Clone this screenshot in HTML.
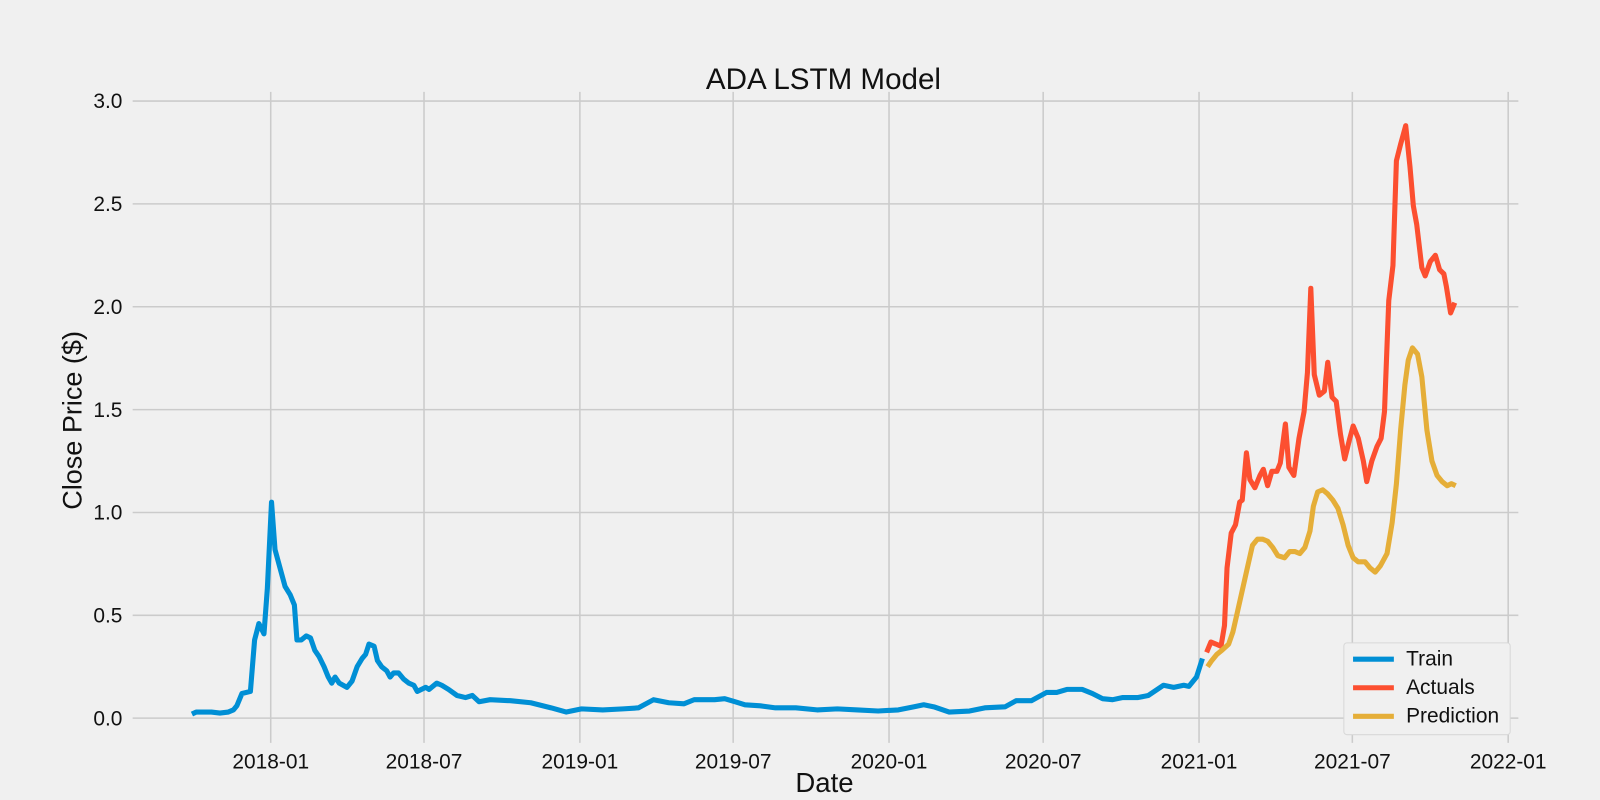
<!DOCTYPE html>
<html><head><meta charset="utf-8"><meta name="viewport" content="width=1600,height=800,initial-scale=1"><style>
html,body{margin:0;padding:0;background:#f0f0f0;width:1600px;height:800px;overflow:hidden;}
svg{display:block;font-family:"Liberation Sans","DejaVu Sans",sans-serif;}
</style></head><body>
<svg id="chart" width="1600" height="800" viewBox="0 0 1600 800">
<rect x="0" y="0" width="1600" height="800" fill="#f0f0f0"/>
<g transform="scale(1.0204)">
<g id="grid"></g>
<g id="series"></g>
<text x="807" y="87" text-anchor="middle" font-size="29" fill="#111">ADA LSTM Model</text>
<text x="0" y="0" transform="translate(80,412) rotate(-90)" text-anchor="middle" font-size="26.5" fill="#111">Close Price ($)</text>
<text x="808" y="776" text-anchor="middle" font-size="27" fill="#111">Date</text>
<g>
<rect x="1317" y="630" width="163" height="90" rx="3" fill="#f0f0f0" stroke="#d8d8d8"/>
<line x1="1326" y1="646" x2="1366" y2="646" stroke="#008fd5" stroke-width="5"/>
<text x="1378" y="652" font-size="20.5" fill="#111">Train</text>
<line x1="1326" y1="674" x2="1366" y2="674" stroke="#fc4f30" stroke-width="5"/>
<text x="1378" y="680" font-size="20.5" fill="#111">Actuals</text>
<line x1="1326" y1="702" x2="1366" y2="702" stroke="#e5ae38" stroke-width="5"/>
<text x="1378" y="708" font-size="20.5" fill="#111">Prediction</text>
</g>
</g>
</svg>
<script>
// days since 2018-01-01
const trainDays=[-93,-88,-70,-60,-50,-44,-40,-34,-24,-19,-14,-8,-4,1,5,11,17,23,28,31,36,42,47,52,57,63,68,72,76,81,90,96,102,108,112,116,122,126,131,137,141,145,151,157,163,169,173,183,187,196,202,210,220,230,238,246,259,283,307,331,349,367,392,416,434,452,470,488,500,524,536,548,560,578,596,620,645,669,693,717,741,759,771,783,801,825,843,867,880,898,916,928,940,958,970,982,994,1006,1024,1036,1054,1066,1078,1084,1093,1100];
const trainValues=[0.02,0.03,0.03,0.025,0.03,0.04,0.06,0.12,0.13,0.38,0.46,0.41,0.63,1.05,0.82,0.73,0.64,0.60,0.55,0.38,0.38,0.40,0.39,0.33,0.30,0.25,0.20,0.17,0.20,0.17,0.15,0.18,0.25,0.29,0.31,0.36,0.35,0.28,0.25,0.23,0.20,0.22,0.22,0.19,0.17,0.16,0.13,0.15,0.14,0.17,0.16,0.14,0.11,0.10,0.11,0.08,0.09,0.085,0.075,0.05,0.03,0.045,0.04,0.045,0.05,0.09,0.075,0.07,0.09,0.09,0.095,0.08,0.065,0.06,0.05,0.05,0.04,0.045,0.04,0.035,0.04,0.055,0.065,0.055,0.03,0.035,0.05,0.055,0.085,0.085,0.125,0.125,0.14,0.14,0.12,0.095,0.09,0.10,0.10,0.11,0.16,0.15,0.16,0.155,0.20,0.29];
const actualDays=[1105,1110,1116,1122,1126,1129,1134,1139,1144,1147,1152,1156,1162,1168,1172,1177,1182,1188,1192,1198,1202,1208,1214,1220,1224,1228,1232,1238,1244,1248,1253,1258,1263,1268,1274,1278,1284,1290,1294,1300,1306,1311,1315,1320,1325,1329,1334,1340,1345,1349,1353,1359,1363,1369,1375,1380,1385,1388,1393,1398];
const actualValues=[0.32,0.37,0.36,0.35,0.45,0.73,0.90,0.94,1.05,1.06,1.29,1.16,1.12,1.18,1.21,1.13,1.20,1.20,1.24,1.43,1.22,1.18,1.36,1.49,1.68,2.09,1.67,1.57,1.59,1.73,1.56,1.54,1.38,1.26,1.36,1.42,1.36,1.25,1.15,1.25,1.32,1.36,1.49,2.03,2.20,2.71,2.79,2.88,2.68,2.49,2.40,2.19,2.15,2.22,2.25,2.18,2.16,2.10,1.97,2.02];
const predDays=[1106,1111,1117,1123,1131,1136,1141,1147,1153,1159,1165,1171,1177,1183,1189,1197,1203,1209,1215,1221,1227,1231,1236,1242,1248,1254,1260,1266,1272,1278,1284,1292,1298,1304,1310,1318,1324,1329,1334,1339,1343,1348,1354,1359,1365,1371,1377,1383,1389,1394,1399];
const predValues=[0.25,0.28,0.31,0.33,0.36,0.42,0.51,0.62,0.73,0.84,0.87,0.87,0.86,0.83,0.79,0.78,0.81,0.81,0.80,0.83,0.91,1.03,1.10,1.11,1.09,1.06,1.02,0.94,0.84,0.78,0.76,0.76,0.73,0.71,0.74,0.80,0.95,1.14,1.40,1.62,1.74,1.80,1.77,1.66,1.40,1.25,1.18,1.15,1.13,1.14,1.13];
const yTicks=[0,0.5,1.0,1.5,2.0,2.5,3.0];
const yTickLabels=["0.0","0.5","1.0","1.5","2.0","2.5","3.0"];
const xTickDays=[0,181,365,546,730,912,1096,1277,1461];
const xTickLabels=["2018-01","2018-07","2019-01","2019-07","2020-01","2020-07","2021-01","2021-07","2022-01"];

const X0=130,X1=1488,Y0=728,Y1=95;
const xDom=[-163,1473], yDom=[-0.12,3.02];
function xs(d){return X0+(d-xDom[0])/(xDom[1]-xDom[0])*(X1-X0);}
function ys(v){return Y0-(v-yDom[0])/(yDom[1]-yDom[0])*(Y0-Y1);}
const NS="http://www.w3.org/2000/svg";
const grid=document.getElementById('grid'), series=document.getElementById('series');
function mk(tag,attrs,parent){const e=document.createElementNS(NS,tag);for(const k in attrs)e.setAttribute(k,attrs[k]);parent.appendChild(e);return e;}
yTicks.forEach((v,i)=>{
  const l=mk('line',{x1:X0,x2:X1,y1:ys(v),y2:ys(v),stroke:'#cbcbcb','stroke-width':1.5},grid);
  
  
  const t=mk('text',{x:X0-10,y:ys(v)+7,'text-anchor':'end','font-size':20.5,fill:'#111'},grid);
  
  
  t.textContent=yTickLabels[i];
});
xTickDays.forEach((d,i)=>{
  const l=mk('line',{x1:xs(d),x2:xs(d),y1:Y1-5,y2:Y0,stroke:'#cbcbcb','stroke-width':1.5},grid);
  
  
  const t=mk('text',{x:xs(d),y:753,'text-anchor':'middle','font-size':20.5,fill:'#111'},grid);
  
  
  t.textContent=xTickLabels[i];
});
function line(days,vals,color,name){
  const d=days.map((dd,i)=>(i?'L':'M')+xs(dd).toFixed(1)+','+ys(vals[i]).toFixed(1)).join(' ');
  const p=mk('path',{d:d,fill:'none',stroke:color,'stroke-width':5,'stroke-linejoin':'round'},series);
  
  
}
line(trainDays,trainValues,'#008fd5','train-line');
line(actualDays,actualValues,'#fc4f30','actuals-line');
line(predDays,predValues,'#e5ae38','prediction-line');
</script>
</body></html>
